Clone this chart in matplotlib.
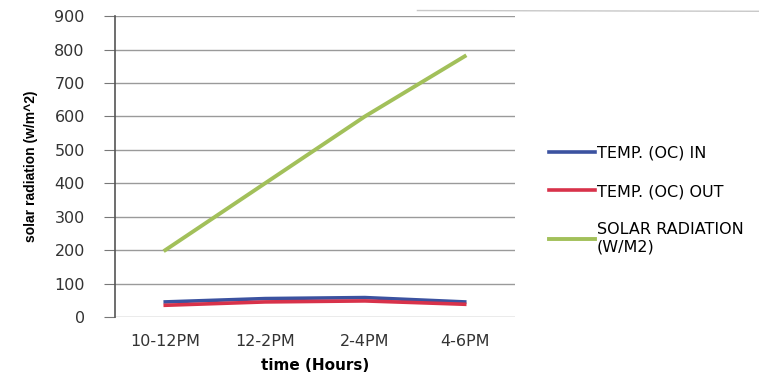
import numpy as np
import matplotlib
matplotlib.use('Agg')
import matplotlib.pyplot as plt
from matplotlib.lines import Line2D

plt.rcParams['font.family'] = ['DejaVu Sans']

# chart data
times = ['10-12PM', '12-2PM', '2-4PM', '4-6PM']
temp_in = [45, 55, 58, 45]
temp_out = [35, 45, 48, 38]
solar = [200, 400, 600, 780]

fig = plt.figure(figsize=(7.59, 3.76), dpi=100)
ax = fig.add_axes([0.152, 0.157, 0.526, 0.8])

x = np.arange(len(times))
ax.plot(x, temp_in, color='#3b52a0', lw=2.6, label='TEMP. (OC) IN')
ax.plot(x, temp_out, color='#d8324a', lw=2.6, label='TEMP. (OC) OUT')
ax.plot(x, solar, color='#a2c05a', lw=2.8, label='SOLAR RADIATION\n(W/M2)')

ax.set_xlim(-0.5, len(times) - 0.5)
ax.set_ylim(0, 900)
ax.set_yticks(range(0, 901, 100))
ax.set_xticks(x)
ax.set_xticklabels(times)
ax.yaxis.grid(True, color='#9a9a9a', lw=1)
ax.set_axisbelow(True)
for s in ['top', 'right', 'bottom']:
    ax.spines[s].set_visible(False)
ax.spines['left'].set_color('#555555')
ax.spines['left'].set_linewidth(1.2)
ax.tick_params(axis='y', length=8, color='#777777', labelsize=11.5, pad=14, labelcolor='#333333')
ax.tick_params(axis='x', length=0, labelsize=11.5, pad=12, labelcolor='#333333')

ax.set_xlabel('time (Hours)', fontweight='bold', fontsize=11, labelpad=7)
ax.set_ylabel('solar radiation (w/m^2)', fontweight='bold', fontsize=10, labelpad=12,
              family=['Liberation Sans', 'DejaVu Sans'])

ax.legend(loc='upper left', bbox_to_anchor=(1.07, 0.59), frameon=False,
          fontsize=11.5, handlelength=2.9, handletextpad=0.1, labelspacing=1.45,
          borderaxespad=0)

# top border line left over from the source image
fig.add_artist(Line2D([0.55, 1.0], [0.972, 0.97], color='#c8c8c8', lw=1))

fig.savefig('out.png', dpi=100)
